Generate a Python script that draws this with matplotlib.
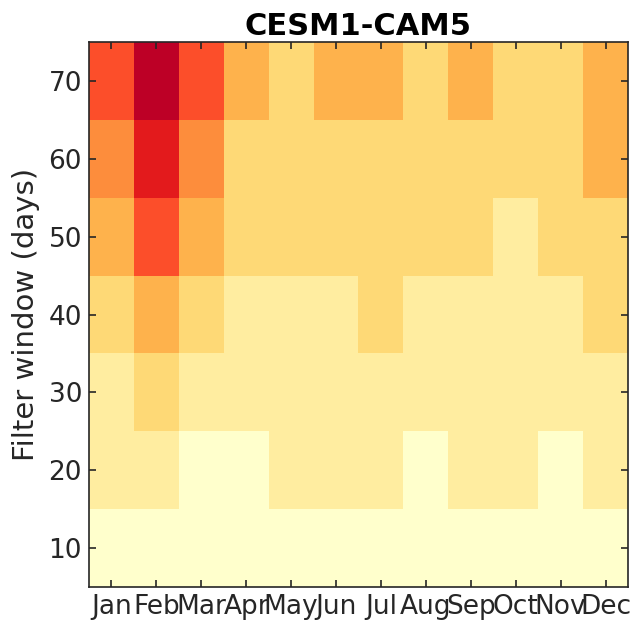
import matplotlib
matplotlib.use("Agg")
import matplotlib.pyplot as plt
import numpy as np
from matplotlib.colors import ListedColormap, BoundaryNorm

months = ["Jan", "Feb", "Mar", "Apr", "May", "Jun", "Jul", "Aug", "Sep", "Oct", "Nov", "Dec"]
windows = [10, 20, 30, 40, 50, 60, 70]

# colour level per cell (rows = filter windows 10..70)
row10 = [0, 0, 0, 0, 0, 0, 0, 0, 0, 0, 0, 0]
row20 = [1, 1, 0, 0, 1, 1, 1, 0, 1, 1, 0, 1]
row30 = [1, 2, 1, 1, 1, 1, 1, 1, 1, 1, 1, 1]
row40 = [2, 3, 2, 1, 1, 1, 2, 1, 1, 1, 1, 2]
row50 = [3, 5, 3, 2, 2, 2, 2, 2, 2, 1, 2, 2]
row60 = [4, 6, 4, 2, 2, 2, 2, 2, 2, 2, 2, 3]
row70 = [5, 7, 5, 3, 2, 3, 3, 2, 3, 2, 2, 3]

levels = np.array([row10, row20, row30, row40, row50, row60, row70])

colors = ["#ffffcc", "#ffeda0", "#fed976", "#feb24c", "#fd8d3c", "#fc4e2a", "#e31a1c", "#bd0026"]
cmap = ListedColormap(colors)
norm = BoundaryNorm(np.arange(-0.5, len(colors) + 0.5, 1), cmap.N)

fig = plt.figure(figsize=(6.34, 6.27), dpi=100)
ax = fig.add_axes([0.1404, 0.0638, 0.8501, 0.8692])

x = np.arange(1, 13)
y = np.array(windows)
ax.pcolormesh(x, y, levels, cmap=cmap, norm=norm, shading="nearest")

ax.set_xlim(0.5, 12.5)
ax.set_ylim(5, 75)
ax.set_xticks(x)
ax.set_xticklabels(months)
ax.set_yticks(windows)
ax.tick_params(direction="in", top=True, right=True, labelsize=19, colors="#262626",
               length=5, width=1.2, pad=5)
for s in ax.spines.values():
    s.set_color("#262626")
    s.set_linewidth(1.2)
ax.set_ylabel("Filter window (days)", fontsize=21, color="#262626", labelpad=6)
ax.set_title("CESM1-CAM5", fontsize=22, fontweight="bold", pad=5)

fig.savefig("out.png", dpi=100)
